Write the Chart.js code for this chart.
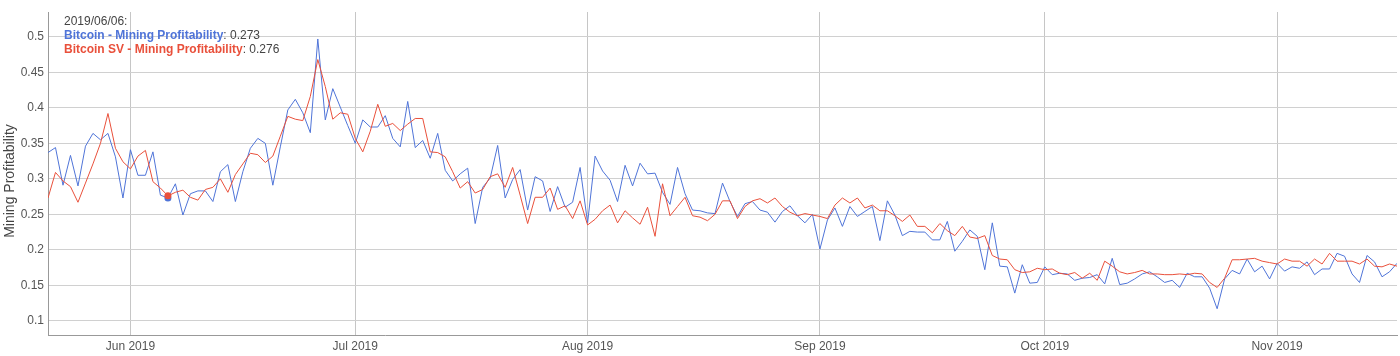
<!DOCTYPE html>
<html>
<head>
<meta charset="utf-8">
<script src="https://cdn.jsdelivr.net/npm/chart.js@4"></script>
<style>
html,body{margin:0;padding:0;background:#fff;}
#wrap{width:1400px;height:356px;position:relative;}
</style>
</head>
<body>
<div id="wrap"><canvas id="c" width="1400" height="356"></canvas></div>
<script>
const startDate = '2019-05-21';
const seriesNames = ['Bitcoin - Mining Profitability', 'Bitcoin SV - Mining Profitability'];
const yAxisTitle = 'Mining Profitability';
const yTickValues = [0.1, 0.15, 0.2, 0.25, 0.3, 0.35, 0.4, 0.45, 0.5];
const monthLabels = ['Jun 2019', 'Jul 2019', 'Aug 2019', 'Sep 2019', 'Oct 2019', 'Nov 2019'];
const highlightDate = '2019-06-06';

const bitcoin = [
0.337,0.344,0.291,0.333,0.290,0.346,0.364,0.355,0.364,0.331,
0.273,0.341,0.305,0.305,0.338,0.277,0.273,0.293,0.249,0.279,
0.283,0.283,0.268,0.310,0.320,0.268,0.310,0.343,0.357,0.350,
0.291,0.345,0.397,0.412,0.393,0.365,0.497,0.383,0.427,0.401,
0.375,0.350,0.383,0.373,0.373,0.389,0.357,0.345,0.409,0.344,
0.354,0.329,0.364,0.312,0.297,0.307,0.315,0.237,0.288,0.301,
0.347,0.273,0.299,0.313,0.256,0.303,0.297,0.254,0.289,0.260,
0.267,0.316,0.238,0.332,0.311,0.298,0.268,0.319,0.290,0.322,
0.307,0.308,0.281,0.264,0.316,0.279,0.256,0.255,0.252,0.251,
0.294,0.268,0.247,0.265,0.268,0.256,0.253,0.239,0.254,0.262,
0.248,0.238,0.250,0.201,0.242,0.259,0.233,0.261,0.247,0.254,
0.261,0.213,0.269,0.249,0.220,0.226,0.225,0.225,0.214,0.214,
0.240,0.198,0.212,0.228,0.219,0.172,0.238,0.177,0.176,0.139,
0.179,0.153,0.154,0.176,0.165,0.167,0.166,0.157,0.160,0.161,
0.165,0.152,0.188,0.151,0.153,0.159,0.166,0.169,0.162,0.154,
0.157,0.147,0.167,0.162,0.162,0.146,0.117,0.159,0.171,0.166,
0.187,0.169,0.177,0.159,0.181,0.170,0.176,0.174,0.183,0.165,
0.173,0.173,0.195,0.191,0.166,0.154,0.192,0.183,0.162,0.169,
0.181
];

const bitcoinSV = [
0.273,0.309,0.297,0.289,0.267,0.294,0.321,0.350,0.392,0.343,
0.324,0.314,0.332,0.340,0.296,0.287,0.276,0.281,0.284,0.274,
0.270,0.285,0.288,0.300,0.281,0.306,0.321,0.336,0.334,0.323,
0.332,0.360,0.388,0.384,0.382,0.416,0.468,0.430,0.384,0.393,
0.391,0.357,0.338,0.367,0.405,0.374,0.378,0.368,0.377,0.385,
0.385,0.338,0.337,0.331,0.310,0.287,0.296,0.280,0.285,0.303,
0.307,0.288,0.316,0.277,0.237,0.274,0.274,0.287,0.257,0.262,
0.244,0.269,0.235,0.243,0.255,0.263,0.238,0.255,0.245,0.236,
0.260,0.219,0.293,0.248,0.261,0.274,0.248,0.246,0.241,0.250,
0.269,0.269,0.244,0.261,0.269,0.272,0.266,0.273,0.261,0.253,
0.248,0.251,0.249,0.247,0.244,0.263,0.273,0.266,0.273,0.259,
0.263,0.255,0.255,0.248,0.240,0.249,0.233,0.233,0.224,0.237,
0.227,0.220,0.233,0.218,0.216,0.220,0.192,0.187,0.186,0.172,
0.168,0.169,0.174,0.172,0.173,0.167,0.165,0.168,0.160,0.167,
0.157,0.184,0.177,0.169,0.166,0.168,0.171,0.166,0.166,0.165,
0.165,0.166,0.165,0.167,0.166,0.154,0.147,0.160,0.186,0.186,
0.187,0.188,0.184,0.182,0.180,0.187,0.184,0.184,0.177,0.187,
0.180,0.195,0.184,0.184,0.184,0.180,0.187,0.177,0.176,0.180,
0.177
];

// category dates (one per day)
const dates = [];
(function(){
  const d0 = new Date(startDate + 'T00:00:00Z');
  for (let i = 0; i < bitcoin.length; i++) {
    const d = new Date(d0.getTime() + i * 86400000);
    dates.push(d.toISOString().slice(0,10));
  }
})();
const monthStartIdx = dates.map((d,i)=>d.endsWith('-01')?i:-1).filter(i=>i>=0);
const hiIdx = dates.indexOf(highlightDate);

const FONT = "'Liberation Sans', Arial, sans-serif";
const BLUE = '#4f74d8';
const RED = '#e9503b';

const infoPlugin = {
  id: 'info',
  afterDraw(chart) {
    const ctx = chart.ctx;
    ctx.save();
    // y-axis title
    ctx.save();
    ctx.translate(10, 181);
    ctx.rotate(-Math.PI / 2);
    ctx.textAlign = 'center';
    ctx.textBaseline = 'middle';
    ctx.font = '14px ' + FONT;
    ctx.fillStyle = '#444';
    ctx.fillText(yAxisTitle, 0, 0);
    ctx.restore();
    // hover info
    ctx.textBaseline = 'middle';
    ctx.textAlign = 'left';
    const x = 64;
    ctx.font = '12px ' + FONT;
    ctx.fillStyle = '#444';
    ctx.fillText(highlightDate.replace(/-/g,'/') + ':', x, 22);
    const rows = [[seriesNames[0], BLUE, bitcoin[hiIdx]], [seriesNames[1], RED, bitcoinSV[hiIdx]]];
    rows.forEach((r, k) => {
      const y = 36 + k * 14;
      ctx.font = 'bold 12px ' + FONT;
      ctx.fillStyle = r[1];
      ctx.fillText(r[0], x, y);
      const w = ctx.measureText(r[0]).width;
      ctx.font = '12px ' + FONT;
      ctx.fillStyle = '#444';
      ctx.fillText(': ' + r[2].toFixed(3), x + w, y);
    });
    ctx.restore();
  }
};

new Chart(document.getElementById('c'), {
  type: 'line',
  data: {
    datasets: [
      {
        label: seriesNames[0],
        data: bitcoin.map((v,i)=>({x:i,y:v})),
        borderColor: BLUE,
        backgroundColor: BLUE,
        borderWidth: 1,
        pointRadius: c => c.dataIndex === hiIdx ? 3.5 : 0,
        pointBorderWidth: 0,
        tension: 0,
        order: 1
      },
      {
        label: seriesNames[1],
        data: bitcoinSV.map((v,i)=>({x:i,y:v})),
        borderColor: RED,
        backgroundColor: RED,
        borderWidth: 1,
        pointRadius: c => c.dataIndex === hiIdx ? 3.5 : 0,
        pointBorderWidth: 0,
        tension: 0,
        order: 0
      }
    ]
  },
  options: {
    responsive: false,
    animation: false,
    events: [],
    layout: { padding: { top: 12, right: 3, left: 0, bottom: 0 } },
    plugins: { legend: { display: false }, tooltip: { enabled: false } },
    scales: {
      x: {
        type: 'linear',
        min: 0,
        max: dates.length - 1,
        afterBuildTicks: s => { s.ticks = monthStartIdx.map(v => ({ value: v })); },
        afterFit: s => { s.height = 21; },
        ticks: {
          autoSkip: false,
          maxRotation: 0,
          padding: 4,
          color: '#555',
          font: { family: FONT, size: 12 },
          callback: (v) => { const k = monthStartIdx.indexOf(v); return k >= 0 ? monthLabels[k] : ''; }
        },
        grid: { color: '#c6c6c6', drawTicks: false, lineWidth: 1 },
        border: { display: true, color: '#999', width: 1 }
      },
      y: {
        min: 0.08,
        max: 0.535,
        afterBuildTicks: s => { s.ticks = yTickValues.map(v => ({ value: v })); },
        afterFit: s => { s.width = 48; },
        ticks: {
          padding: 4,
          color: '#555',
          font: { family: FONT, size: 12 },
          callback: v => String(+v.toFixed(2))
        },
        grid: { color: '#d0d0d0', drawTicks: false, lineWidth: 1 },
        border: { display: true, color: '#999', width: 1 }
      }
    }
  },
  plugins: [infoPlugin]
});
</script>
</body>
</html>
